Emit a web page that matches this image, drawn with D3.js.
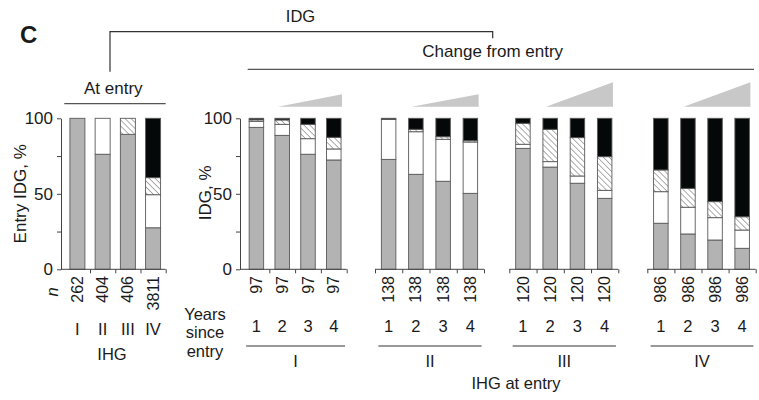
<!DOCTYPE html>
<html>
<head>
<meta charset="utf-8">
<script src="https://cdnjs.cloudflare.com/ajax/libs/d3/7.8.5/d3.min.js"></script>
<style>
body { margin: 0; background: #fff; }
svg text { font-family: "Liberation Sans", Arial, Helvetica, sans-serif; fill: #1a1a1a; }
.axis path, .axis line { stroke: #444; }
</style>
</head>
<body>
<div id="graph"></div>
<script>
// ---- data -------------------------------------------------------------
// left panel: IDG distribution at entry, per IHG group
var entryGroups = ["I", "II", "III", "IV"];
var entryN = [262, 404, 406, 3811];
var entryIDG1 = [100, 76.2, 89.4, 27.5];
var entryIDG2 = [0, 23.8, 0, 21.9];
var entryIDG3 = [0, 0, 10.6, 11.3];
var entryIDG4 = [0, 0, 0, 39.3];

// right panel: IDG by years since entry, one row per IHG group at entry
var changeGroups = ["I", "II", "III", "IV"];
var years = ["1", "2", "3", "4"];
var changeN = [97, 138, 120, 986];
var changeIDG1 = [[94.0, 88.7, 76.2, 72.4], [72.8, 62.9, 58.3, 50.3], [80.1, 67.7, 57.0, 47.0], [30.5, 23.4, 19.4, 13.9]];
var changeIDG2 = [[4.0, 7.3, 10.3, 7.3], [26.5, 28.2, 27.8, 34.0], [2.7, 3.6, 4.8, 5.3], [20.9, 17.7, 14.8, 12.1]];
var changeIDG3 = [[1.0, 2.9, 9.5, 7.7], [0, 1.6, 1.7, 0.9], [13.9, 21.4, 25.4, 22.3], [14.4, 12.5, 10.6, 8.8]];
var changeIDG4 = [[1.0, 1.1, 4.0, 12.6], [0.7, 7.3, 12.2, 14.8], [3.3, 7.3, 12.8, 25.4], [34.2, 46.4, 55.2, 65.2]];

var yTicks = [0, 25, 50, 75, 100];
var keys = ["g1", "g2", "g3", "g4"];

// ---- layout -----------------------------------------------------------
var W = 759, H = 400;
var y = d3.scaleLinear().domain([0, 100]).range([269.3, 118.3]);
var entryAxisX = 61, changeAxisX = 240;
var groupRanges = [[243.5, 346.7], [375, 484], [509.3, 618.3], [647.3, 755.7]];
var rampTops = [94.3, 94.3, 82.3, 82.3];

var svg = d3.select("#graph").append("svg")
    .attr("width", W)
    .attr("height", H);

// hatch pattern for IDG III
svg.append("defs").append("pattern")
    .attr("id", "hatch")
    .attr("patternUnits", "userSpaceOnUse")
    .attr("width", 4.2).attr("height", 4.2)
    .attr("patternTransform", "rotate(-45)")
    .call(function(p) {
        p.append("rect").attr("width", 4.2).attr("height", 4.2).attr("fill", "#fff");
        p.append("line").attr("x1", 0).attr("y1", 0).attr("x2", 0).attr("y2", 4.2)
            .attr("stroke", "#8c8c8c").attr("stroke-width", 1.4);
    });

var fills = {g1: "#b3b3b3", g2: "#ffffff", g3: "url(#hatch)", g4: "#050808"};
var stack = d3.stack().keys(keys);

function rows(cats, a, b, c, d) {
    return cats.map(function(k, i) { return {cat: k, g1: a[i], g2: b[i], g3: c[i], g4: d[i]}; });
}

// draws stacked bars for one band scale
function drawBars(g, xs, data, bw) {
    var series = stack(data);
    series.forEach(function(s) {
        g.append("g").selectAll("rect")
            .data(s.filter(function(d) { return d[1] - d[0] > 0; }))
            .enter().append("rect")
            .attr("x", function(d) { return xs(d.data.cat) + (xs.bandwidth() - bw) / 2; })
            .attr("y", function(d) { return y(d[1]); })
            .attr("width", bw)
            .attr("height", function(d) { return y(d[0]) - y(d[1]); })
            .attr("fill", fills[s.key])
            .attr("stroke", "#5a5a5a")
            .attr("stroke-width", 0.9);
    });
}

// bottom axis with ticks at band boundaries
function drawBase(xs, startX, withFirst) {
    var n = xs.domain().length;
    var bounds = d3.scaleLinear().domain([0, n]).range(xs.range());
    var g = svg.append("g")
        .attr("class", "axis")
        .attr("transform", "translate(0," + y(0) + ")")
        .call(d3.axisBottom(bounds)
            .tickValues(withFirst ? d3.range(0, n + 1) : d3.range(1, n + 1))
            .tickFormat("")
            .tickSize(4)
            .tickSizeOuter(0));
    g.select(".domain").remove();
    g.append("line").attr("x1", startX).attr("x2", xs.range()[1]).attr("stroke", "#444");
}

function drawYAxis(x) {
    svg.append("g")
        .attr("class", "axis")
        .attr("transform", "translate(" + x + ",0)")
        .call(d3.axisLeft(y)
            .tickValues(yTicks)
            .tickFormat(function(d) { return d % 50 === 0 ? d : ""; })
            .tickSize(4)
            .tickPadding(4)
            .tickSizeOuter(0))
        .selectAll("text")
        .style("font-size", "17px")
        .style("fill", "#1a1a1a");
}

function nLabels(xs, values) {
    svg.append("g").selectAll("text")
        .data(values)
        .enter().append("text")
        .attr("transform", function(d, i) {
            return "translate(" + (xs(xs.domain()[i]) + xs.bandwidth() / 2) + ",276) rotate(-90)";
        })
        .attr("dy", "0.35em")
        .attr("text-anchor", "end")
        .style("font-size", "16px")
        .text(function(d) { return d; });
}

function label(x, yy, txt, size, extra) {
    var t = svg.append("text")
        .attr("x", x).attr("y", yy)
        .attr("text-anchor", "middle")
        .style("font-size", size + "px")
        .text(txt);
    if (extra) extra(t);
    return t;
}

// ---- left panel: at entry ----------------------------------------------
var xEntry = d3.scaleBand().domain(entryGroups).range([64.8, 165.7]).paddingInner(0.4).paddingOuter(0.2);
drawBars(svg.append("g"), xEntry, rows(entryGroups, entryIDG1, entryIDG2, entryIDG3, entryIDG4), 15);
drawYAxis(entryAxisX);
drawBase(xEntry, entryAxisX, false);
nLabels(xEntry, entryN);

svg.append("text")
    .attr("transform", "translate(26," + (y(50)) + ") rotate(-90)")
    .attr("text-anchor", "middle")
    .style("font-size", "17px")
    .text("Entry IDG, %");

svg.append("text")
    .attr("transform", "translate(52,292) rotate(-90)")
    .attr("dy", "0.35em")
    .attr("text-anchor", "middle")
    .style("font-size", "16.5px")
    .style("font-style", "italic")
    .text("n");

entryGroups.forEach(function(k) {
    label(xEntry(k) + xEntry.bandwidth() / 2, 335, k, 16.5);
});
label(112, 360, "IHG", 16.5);

// ---- right panel: change from entry ------------------------------------
drawYAxis(changeAxisX);
svg.append("text")
    .attr("transform", "translate(211," + (y(50) - 1) + ") rotate(-90)")
    .attr("text-anchor", "middle")
    .style("font-size", "17px")
    .text("IDG, %");

changeGroups.forEach(function(grp, gi) {
    var xs = d3.scaleBand().domain(years).range(groupRanges[gi]).paddingInner(0.46).paddingOuter(0.23);
    var bw = 14.5;
    drawBars(svg.append("g"), xs, rows(years, changeIDG1[gi], changeIDG2[gi], changeIDG3[gi], changeIDG4[gi]), bw);
    if (gi === 0) drawBase(xs, changeAxisX, false);
    else drawBase(xs, groupRanges[gi][0], true);
    nLabels(xs, years.map(function() { return changeN[gi]; }));

    years.forEach(function(yr) {
        label(xs(yr) + xs.bandwidth() / 2, 331.5, yr, 16.5);
    });

    var left = xs(years[0]) + (xs.bandwidth() - bw) / 2 - 3;
    var right = xs(years[3]) + (xs.bandwidth() + bw) / 2 + 4;
    svg.append("line")
        .attr("x1", left).attr("x2", right)
        .attr("y1", 346).attr("y2", 346)
        .attr("stroke", "#777").attr("stroke-width", 1.4);
    label((left + right) / 2, 367, grp, 16.5);

    // ramp showing increasing time since entry
    var rx0 = xs(years[1]) + (xs.bandwidth() - bw) / 2 + 3;
    var rx1 = xs(years[3]) + (xs.bandwidth() + bw) / 2 + 1;
    svg.append("polygon")
        .attr("points", [[rx0, 106.7], [rx1, 106.7], [rx1, rampTops[gi]]].join(" "))
        .attr("fill", "#c8c8c8");
});

["Years", "since", "entry"].forEach(function(w, i) {
    label(205, 320 + i * 18.3, w, 16.5);
});
label(516, 389, "IHG at entry", 16.5);

// ---- brackets and headings ----------------------------------------------
svg.append("text")
    .attr("x", 20).attr("y", 43)
    .style("font-size", "24px")
    .style("font-weight", "bold")
    .text("C");

label(300.5, 21.7, "IDG", 16.5);
svg.append("path")
    .attr("d", "M110,71.7V31.7H492.7V38.3")
    .attr("fill", "none")
    .attr("stroke", "#333")
    .attr("stroke-width", 1.2);

label(113.3, 94, "At entry", 17);
svg.append("line")
    .attr("x1", 64.3).attr("x2", 165.7).attr("y1", 103.7).attr("y2", 103.7)
    .attr("stroke", "#555").attr("stroke-width", 1.2);

label(492.7, 57, "Change from entry", 17);
svg.append("line")
    .attr("x1", 247.7).attr("x2", 754).attr("y1", 69.3).attr("y2", 69.3)
    .attr("stroke", "#555").attr("stroke-width", 1.2);
</script>
</body>
</html>
